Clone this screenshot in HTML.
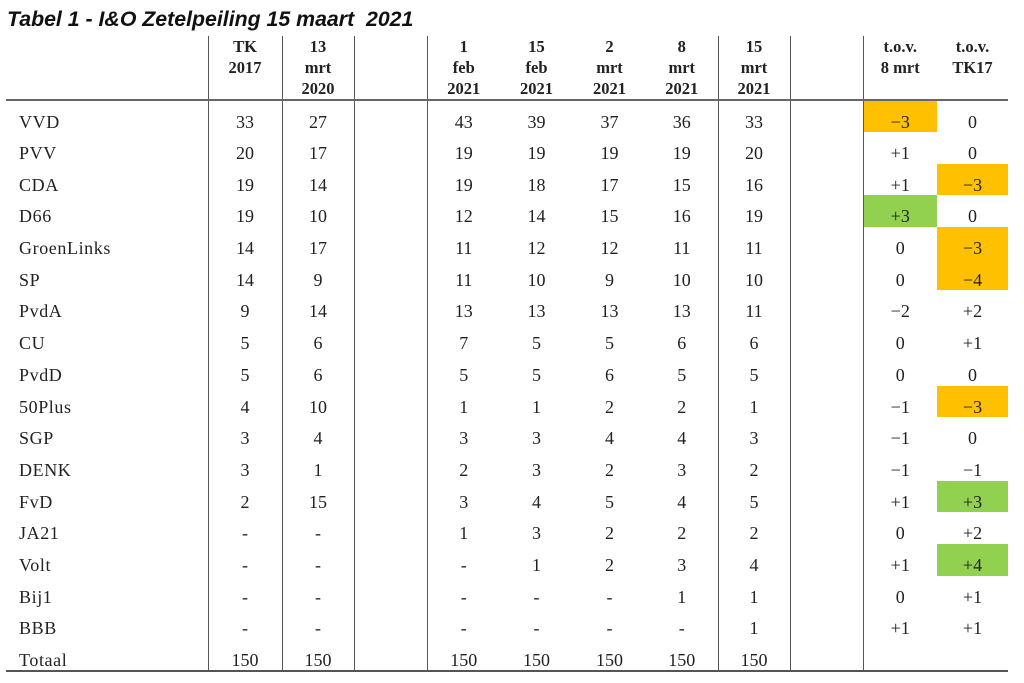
<!DOCTYPE html>
<html><head><meta charset="utf-8"><style>
body{margin:0;background:#fff;width:1024px;height:683px;overflow:hidden;position:relative;font-family:"Liberation Serif",serif;color:#222}
.title{position:absolute;left:7px;top:7px;font-family:"Liberation Sans",sans-serif;font-weight:bold;font-style:italic;font-size:21.3px;color:#111}
table{position:absolute;left:6px;top:36px;border-collapse:collapse;table-layout:fixed}
td{padding:0;text-align:center;font-size:18px;height:31.7px;line-height:20px;padding-top:11px;box-sizing:border-box;vertical-align:top}
td.l{text-align:left;padding-left:13px;letter-spacing:0.6px}
tr.h td{height:64px;padding-top:0;font-weight:bold;font-size:16.5px;line-height:21px;border-bottom:2px solid #666}
.v{border-left:1.5px solid #555}
.o{background:#FFC000}.g{background:#92D050}
tr.t td{border-bottom:2px solid #555}
</style></head><body>
<div class="title">Tabel 1 - I&amp;O Zetelpeiling 15 maart&nbsp; 2021</div>
<table>
<colgroup><col style="width:202px"><col style="width:74px"><col style="width:72px"><col style="width:73px"><col style="width:73px"><col style="width:73px"><col style="width:73px"><col style="width:72px"><col style="width:72px"><col style="width:73px"><col style="width:74px"><col style="width:71px"></colgroup>
<tr class="h"><td></td><td class="v">TK<br>2017</td><td class="v">13<br>mrt<br>2020</td><td class="v"></td><td class="v">1<br>feb<br>2021</td><td>15<br>feb<br>2021</td><td>2<br>mrt<br>2021</td><td>8<br>mrt<br>2021</td><td class="v">15<br>mrt<br>2021</td><td class="v"></td><td class="v">t.o.v.<br>8 mrt</td><td>t.o.v.<br>TK17</td></tr>
<tr><td class="l">VVD</td><td class="v">33</td><td class="v">27</td><td class="v"></td><td class="v">43</td><td>39</td><td>37</td><td>36</td><td class="v">33</td><td class="v"></td><td class="v o">−3</td><td>0</td></tr>
<tr><td class="l">PVV</td><td class="v">20</td><td class="v">17</td><td class="v"></td><td class="v">19</td><td>19</td><td>19</td><td>19</td><td class="v">20</td><td class="v"></td><td class="v">+1</td><td>0</td></tr>
<tr><td class="l">CDA</td><td class="v">19</td><td class="v">14</td><td class="v"></td><td class="v">19</td><td>18</td><td>17</td><td>15</td><td class="v">16</td><td class="v"></td><td class="v">+1</td><td class="o">−3</td></tr>
<tr><td class="l">D66</td><td class="v">19</td><td class="v">10</td><td class="v"></td><td class="v">12</td><td>14</td><td>15</td><td>16</td><td class="v">19</td><td class="v"></td><td class="v g">+3</td><td>0</td></tr>
<tr><td class="l">GroenLinks</td><td class="v">14</td><td class="v">17</td><td class="v"></td><td class="v">11</td><td>12</td><td>12</td><td>11</td><td class="v">11</td><td class="v"></td><td class="v">0</td><td class="o">−3</td></tr>
<tr><td class="l">SP</td><td class="v">14</td><td class="v">9</td><td class="v"></td><td class="v">11</td><td>10</td><td>9</td><td>10</td><td class="v">10</td><td class="v"></td><td class="v">0</td><td class="o">−4</td></tr>
<tr><td class="l">PvdA</td><td class="v">9</td><td class="v">14</td><td class="v"></td><td class="v">13</td><td>13</td><td>13</td><td>13</td><td class="v">11</td><td class="v"></td><td class="v">−2</td><td>+2</td></tr>
<tr><td class="l">CU</td><td class="v">5</td><td class="v">6</td><td class="v"></td><td class="v">7</td><td>5</td><td>5</td><td>6</td><td class="v">6</td><td class="v"></td><td class="v">0</td><td>+1</td></tr>
<tr><td class="l">PvdD</td><td class="v">5</td><td class="v">6</td><td class="v"></td><td class="v">5</td><td>5</td><td>6</td><td>5</td><td class="v">5</td><td class="v"></td><td class="v">0</td><td>0</td></tr>
<tr><td class="l">50Plus</td><td class="v">4</td><td class="v">10</td><td class="v"></td><td class="v">1</td><td>1</td><td>2</td><td>2</td><td class="v">1</td><td class="v"></td><td class="v">−1</td><td class="o">−3</td></tr>
<tr><td class="l">SGP</td><td class="v">3</td><td class="v">4</td><td class="v"></td><td class="v">3</td><td>3</td><td>4</td><td>4</td><td class="v">3</td><td class="v"></td><td class="v">−1</td><td>0</td></tr>
<tr><td class="l">DENK</td><td class="v">3</td><td class="v">1</td><td class="v"></td><td class="v">2</td><td>3</td><td>2</td><td>3</td><td class="v">2</td><td class="v"></td><td class="v">−1</td><td>−1</td></tr>
<tr><td class="l">FvD</td><td class="v">2</td><td class="v">15</td><td class="v"></td><td class="v">3</td><td>4</td><td>5</td><td>4</td><td class="v">5</td><td class="v"></td><td class="v">+1</td><td class="g">+3</td></tr>
<tr><td class="l">JA21</td><td class="v">-</td><td class="v">-</td><td class="v"></td><td class="v">1</td><td>3</td><td>2</td><td>2</td><td class="v">2</td><td class="v"></td><td class="v">0</td><td>+2</td></tr>
<tr><td class="l">Volt</td><td class="v">-</td><td class="v">-</td><td class="v"></td><td class="v">-</td><td>1</td><td>2</td><td>3</td><td class="v">4</td><td class="v"></td><td class="v">+1</td><td class="g">+4</td></tr>
<tr><td class="l">Bij1</td><td class="v">-</td><td class="v">-</td><td class="v"></td><td class="v">-</td><td>-</td><td>-</td><td>1</td><td class="v">1</td><td class="v"></td><td class="v">0</td><td>+1</td></tr>
<tr><td class="l">BBB</td><td class="v">-</td><td class="v">-</td><td class="v"></td><td class="v">-</td><td>-</td><td>-</td><td>-</td><td class="v">1</td><td class="v"></td><td class="v">+1</td><td>+1</td></tr>
<tr class="t"><td class="l">Totaal</td><td class="v">150</td><td class="v">150</td><td class="v"></td><td class="v">150</td><td>150</td><td>150</td><td>150</td><td class="v">150</td><td class="v"></td><td class="v"></td><td></td></tr>
</table>
</body></html>
